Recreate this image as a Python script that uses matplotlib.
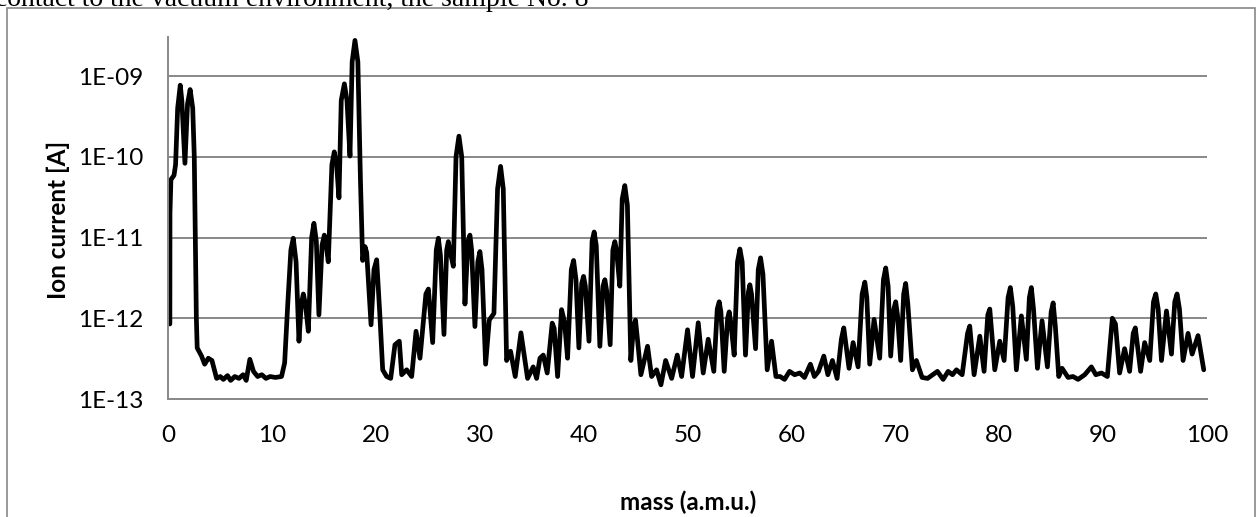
import matplotlib
matplotlib.use("Agg")
import matplotlib.pyplot as plt
from matplotlib.patches import Rectangle

# Mass spectrum (mass in a.m.u., ion current in A)
mass = [
    0.15, 0.16, 0.25, 0.55, 0.7, 0.9, 1.15, 1.3, 1.6, 1.85, 2.1, 2.35, 2.5, 2.7,
    2.78, 3.2, 3.5, 3.85, 4.2, 4.65, 5.0, 5.3, 5.7, 6.0, 6.4, 6.8, 7.2, 7.5,
    7.85, 8.2, 8.6, 9.0, 9.4, 9.8, 10.3, 10.9, 11.2, 11.5, 11.8, 12.03, 12.3,
    12.58, 12.8, 13.0, 13.2, 13.48, 13.8, 14.02, 14.25, 14.5, 14.8, 15.02, 15.2,
    15.4, 15.75, 15.98, 16.2, 16.43, 16.65, 16.95, 17.2, 17.49, 17.7, 17.97,
    18.25, 18.5, 18.71, 18.94, 19.1, 19.52, 19.8, 20.06, 20.35, 20.64, 21.02,
    21.41, 21.82, 22.24, 22.47, 22.95, 23.43, 23.85, 24.23, 24.8, 25.04, 25.45,
    25.8, 26.0, 26.2, 26.54, 26.8, 26.96, 27.1, 27.44, 27.7, 27.98, 28.25, 28.56,
    28.85, 29.04, 29.2, 29.52, 29.8, 30.0, 30.2, 30.55, 30.9, 31.35, 31.7, 31.99,
    32.25, 32.57, 32.95, 33.4, 33.95, 34.59, 35.13, 35.46, 35.78, 36.1, 36.48,
    36.96, 37.15, 37.48, 37.86, 38.15, 38.44, 38.8, 39.02, 39.25, 39.53, 39.8,
    39.98, 40.15, 40.5, 40.8, 41.0, 41.2, 41.55, 41.85, 42.03, 42.2, 42.54, 42.8,
    42.99, 43.15, 43.47, 43.7, 43.95, 44.2, 44.53, 44.8, 44.98, 45.2, 45.5,
    46.14, 46.53, 47.01, 47.43, 47.88, 48.46, 49.0, 49.42, 49.99, 50.47, 51.02,
    51.5, 51.98, 52.52, 52.85, 53.04, 53.2, 53.52, 53.85, 54.0, 54.15, 54.48,
    54.8, 55.03, 55.25, 55.57, 55.85, 55.99, 56.15, 56.54, 56.8, 57.02, 57.25,
    57.66, 58.08, 58.5, 58.9, 59.33, 59.81, 60.3, 60.8, 61.25, 61.82, 62.2, 62.6,
    63.11, 63.5, 63.94, 64.39, 64.8, 65.03, 65.54, 65.93, 66.41, 66.8, 67.06,
    67.25, 67.53, 67.95, 68.49, 68.85, 69.07, 69.3, 69.55, 69.85, 70.03, 70.2,
    70.51, 70.8, 70.99, 71.2, 71.64, 72.02, 72.57, 73.1, 73.6, 74.05, 74.6,
    75.08, 75.5, 75.88, 76.43, 76.95, 77.16, 77.58, 78.13, 78.54, 78.9, 79.09,
    79.57, 80.05, 80.47, 80.85, 81.07, 81.3, 81.65, 82.13, 82.61, 82.9, 83.09,
    83.3, 83.68, 84.12, 84.64, 85.0, 85.19, 85.4, 85.73, 86.05, 86.63, 87.1,
    87.59, 88.23, 88.87, 89.3, 89.84, 90.41, 90.89, 91.19, 91.59, 92.07, 92.55,
    92.9, 93.1, 93.61, 94.0, 94.49, 94.85, 95.07, 95.3, 95.62, 96.1, 96.58, 96.9,
    97.12, 97.35, 97.7, 98.18, 98.57, 99.14, 99.69,
]
ion_current = [
    8.5e-13, 2.0e-11, 5.2e-11, 5.9e-11, 8e-11, 4e-10, 7.7e-10, 5e-10, 8.3e-11,
    4.5e-10, 6.8e-10, 4e-10, 1e-10, 1e-12, 4.3e-13, 3.4e-13, 2.7e-13, 3.2e-13,
    3.0e-13, 1.8e-13, 1.9e-13, 1.75e-13, 1.95e-13, 1.7e-13, 1.9e-13, 1.8e-13,
    2.0e-13, 1.7e-13, 3.1e-13, 2.2e-13, 1.9e-13, 2.0e-13, 1.8e-13, 1.9e-13,
    1.85e-13, 1.9e-13, 2.8e-13, 1.5e-12, 7e-12, 9.8e-12, 5e-12, 5.2e-13, 1.5e-12,
    2.0e-12, 1.5e-12, 6.9e-13, 1e-11, 1.5e-11, 9e-12, 1.1e-12, 8e-12, 1.07e-11,
    8e-12, 5e-12, 8e-11, 1.15e-10, 8e-11, 3.1e-11, 5e-10, 8e-10, 5e-10, 1.02e-10,
    1.5e-9, 2.76e-9, 1.5e-9, 5e-11, 5.2e-12, 7.7e-12, 6.5e-12, 8.3e-13, 4e-12,
    5.3e-12, 1.2e-12, 2.3e-13, 1.9e-13, 1.8e-13, 4.7e-13, 5.2e-13, 2.0e-13,
    2.3e-13, 1.9e-13, 6.9e-13, 3.2e-13, 2.0e-12, 2.3e-12, 5.0e-13, 7e-12, 9.8e-12,
    6e-12, 6.3e-13, 7e-12, 8.9e-12, 7e-12, 4.4e-12, 1e-10, 1.8e-10, 1e-10,
    1.5e-12, 9e-12, 1.07e-11, 7e-12, 7.9e-13, 5e-12, 6.7e-12, 4e-12, 2.7e-13,
    9.5e-13, 1.15e-12, 4e-11, 7.6e-11, 4e-11, 3.0e-13, 3.9e-13, 1.9e-13, 6.6e-13,
    1.8e-13, 2.5e-13, 1.8e-13, 3.2e-13, 3.5e-13, 2.1e-13, 8.7e-13, 7.5e-13,
    1.9e-13, 1.28e-12, 9e-13, 3.2e-13, 4e-12, 5.2e-12, 3e-12, 4.3e-13, 2.7e-12,
    3.3e-12, 2.5e-12, 5.2e-13, 9e-12, 1.17e-11, 8e-12, 4.5e-13, 2.5e-12, 3.0e-12,
    2.2e-12, 4.7e-13, 7e-12, 8.9e-12, 7e-12, 2.5e-12, 3e-11, 4.4e-11, 2.5e-11,
    3.0e-13, 8e-13, 9.5e-13, 5e-13, 2.0e-13, 4.5e-13, 1.9e-13, 2.3e-13, 1.5e-13,
    3.0e-13, 1.8e-13, 3.5e-13, 1.9e-13, 7.2e-13, 1.9e-13, 8.8e-13, 2.1e-13,
    5.5e-13, 2.2e-13, 1.3e-12, 1.6e-12, 1.2e-12, 2.2e-13, 1e-12, 1.2e-12, 9e-13,
    3.5e-13, 5e-12, 7.2e-12, 5e-12, 3.5e-13, 2.1e-12, 2.6e-12, 2e-12, 4.2e-13,
    4e-12, 5.6e-12, 3.5e-12, 2.3e-13, 5.2e-13, 1.9e-13, 1.9e-13, 1.75e-13,
    2.2e-13, 2.0e-13, 2.1e-13, 1.85e-13, 2.7e-13, 1.9e-13, 2.2e-13, 3.4e-13,
    2.0e-13, 3.0e-13, 1.8e-13, 5.5e-13, 7.6e-13, 2.4e-13, 5.0e-13, 2.5e-13,
    2e-12, 2.8e-12, 1.8e-12, 2.7e-13, 9.7e-13, 3.2e-13, 3e-12, 4.2e-12, 2.5e-12,
    3.4e-13, 1.3e-12, 1.6e-12, 1.1e-12, 3.0e-13, 2e-12, 2.7e-12, 1.5e-12,
    2.3e-13, 3e-13, 1.85e-13, 1.8e-13, 2.0e-13, 2.2e-13, 1.75e-13, 2.2e-13,
    2.0e-13, 2.3e-13, 2.0e-13, 6.5e-13, 8.0e-13, 2.0e-13, 6.0e-13, 2.2e-13,
    1.1e-12, 1.3e-12, 2.3e-13, 5.2e-13, 3.0e-13, 1.8e-12, 2.4e-12, 1.4e-12,
    2.3e-13, 1.07e-12, 3.1e-13, 1.8e-12, 2.4e-12, 1.3e-12, 2.4e-13, 9.3e-13,
    2.5e-13, 1.2e-12, 1.55e-12, 8e-13, 1.9e-13, 2.4e-13, 1.85e-13, 1.9e-13,
    1.75e-13, 2.0e-13, 2.5e-13, 2.0e-13, 2.1e-13, 1.9e-13, 1.0e-12, 8.5e-13,
    2.1e-13, 4.2e-13, 2.2e-13, 6.5e-13, 7.6e-13, 2.2e-13, 5.0e-13, 3.0e-13,
    1.6e-12, 2.0e-12, 1.3e-12, 3.0e-13, 1.23e-12, 3.6e-13, 1.6e-12, 2.0e-12,
    1.3e-12, 3.0e-13, 6.5e-13, 3.6e-13, 6.1e-13, 2.3e-13,
]

x_ticks = [0, 10, 20, 30, 40, 50, 60, 70, 80, 90, 100]
y_ticks = [1e-13, 1e-12, 1e-11, 1e-10, 1e-9]
y_tick_labels = ["1E-13", "1E-12", "1E-11", "1E-10", "1E-09"]

grey = "#888888"
plt.rcParams["font.family"] = ["Lato", "DejaVu Sans"]

fig = plt.figure(figsize=(12.57, 5.17), dpi=100)
ax = fig.add_axes([0.1339, 0.2282, 0.8263, 0.7002])

ax.plot(mass, ion_current, color="black", linewidth=3.4,
        solid_joinstyle="round", solid_capstyle="round")

ax.set_yscale("log")
ax.set_xlim(0, 100)
ax.set_ylim(1e-13, 3.04e-9)
ax.set_xticks(x_ticks)
ax.set_yticks(y_ticks)
ax.set_yticklabels(y_tick_labels)
ax.yaxis.set_minor_locator(plt.NullLocator())
ax.tick_params(axis="both", length=0, labelsize=17.5, colors="black")
ax.tick_params(axis="y", pad=18)
ax.tick_params(axis="x", pad=19)
ax.grid(axis="y", color=grey, linewidth=1.4)
ax.set_axisbelow(True)

for side in ["top", "right"]:
    ax.spines[side].set_visible(False)
for side in ["left", "bottom"]:
    ax.spines[side].set_color(grey)
    ax.spines[side].set_linewidth(1.4)

ax.set_xlabel("mass (a.m.u.)", fontsize=17.5, fontweight="bold", va="center")
ax.xaxis.set_label_coords(0.5, -0.284)
ax.set_ylabel("Ion current [A]", fontsize=17.5, fontweight="bold", va="center")
ax.yaxis.set_label_coords(-0.106, 0.494)

# chart frame and the cut-off line of document text above it
fig.patches.append(
    Rectangle((7 / 1257, -0.05), 1248 / 1257, 1.0345, transform=fig.transFigure,
              fill=False, edgecolor=grey, linewidth=1.2)
)
fig.text(-0.004, 0.9884, "contact to the vacuum environment, the sample No. 8",
         family="Liberation Serif", fontsize=20, va="baseline", ha="left")

fig.savefig("out.png", dpi=100)
